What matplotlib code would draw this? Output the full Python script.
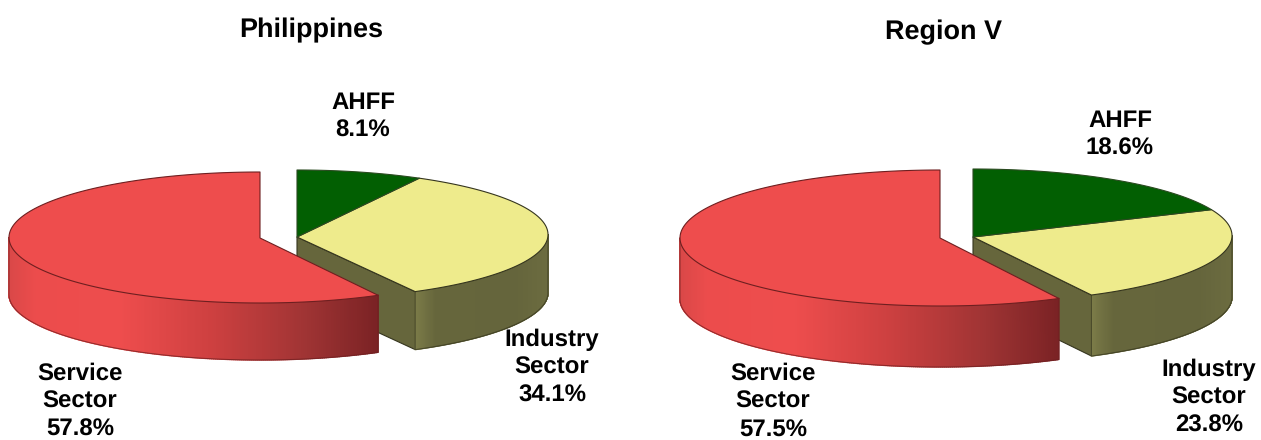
import numpy as np
import matplotlib
matplotlib.use("Agg")
import matplotlib.pyplot as plt
from matplotlib.collections import PolyCollection
from matplotlib.patches import Polygon

plt.rcParams['font.family'] = ['Liberation Sans', 'DejaVu Sans']
plt.rcParams['text.hinting'] = 'no_hinting'
plt.rcParams['text.hinting_factor'] = 1

categories = ["AHFF", "Industry\nSector", "Service\nSector"]
philippines_values = [8.1, 34.1, 57.8]
region_v_values = [18.6, 23.8, 57.5]
titles = ["Philippines", "Region V"]
GREEN, YELLOW, RED = "#025f02", "#eeeb8c", "#ee4d4d"
EDGE_OLIVE = "#35351e"
EDGE_RED = "#6e1f20"

fig = plt.figure(figsize=(12.61, 4.40), dpi=100)
ax = fig.add_axes([0, 0, 1, 1])
ax.set_xlim(0, 1261)
ax.set_ylim(440, 0)
ax.axis("off")


def lerp_stops(t, stops):
    xs = [s[0] for s in stops]
    return [np.interp(t, xs, [s[1][k] for s in stops]) / 255 for k in range(3)]


RED_STOPS = [(0, (218, 72, 72)), (0.07, (236, 76, 76)), (0.3, (238, 77, 77)),
             (0.55, (205, 64, 64)), (0.8, (160, 52, 52)), (1, (122, 34, 36))]
OLIVE_STOPS = [(0, (124, 124, 72)), (0.15, (102, 102, 60)), (0.75, (101, 101, 60)), (1, (108, 108, 64))]


def pt(cx, cy, rx, ry, a):
    return cx + rx * np.sin(a), cy - ry * np.cos(a)


def top_face(vertex, ecy, rx, ry, a0, a1, color, edge, z):
    a = np.linspace(a0, a1, 200)
    x, y = pt(vertex[0], ecy, rx, ry, a)
    ax.add_patch(Polygon(np.column_stack([np.r_[vertex[0], x], np.r_[vertex[1], y]]), closed=True,
                         facecolor=color, edgecolor=edge, lw=0.8, zorder=z, joinstyle="round"))


def side(cx, ecy, rx, ry, d, a0, a1, stops, edge, z):
    a = np.linspace(a0, a1, 260)
    x, y = pt(cx, ecy, rx, ry, a)
    verts, cols = [], []
    xmin, xmax = x.min(), x.max()
    for i in range(len(a) - 1):
        verts.append([(x[i], y[i]), (x[i + 1], y[i + 1]), (x[i + 1], y[i + 1] + d), (x[i], y[i] + d)])
        cols.append(lerp_stops(((x[i] + x[i + 1]) / 2 - xmin) / (xmax - xmin), stops))
    ax.add_collection(PolyCollection(verts, facecolors=cols, edgecolors=cols, linewidths=1.0, zorder=z))
    ax.plot(np.r_[x[0], x + 0, x[-1]], np.r_[y[0], y + d, y[-1]], color=edge, lw=0.7, alpha=0.75, zorder=z + 0.1)


def pie(values, right, left, d_r, d_l):
    frac = np.cumsum(values) / np.sum(values) * 2 * np.pi
    a1, a2 = frac[0], frac[1]
    vr, ecy, rx, ry = right
    # cut face of the Industry wedge
    tx, ty = pt(vr[0], ecy, rx, ry, a2)
    ax.add_patch(Polygon([vr, (tx, ty), (tx, ty + d_r), (vr[0], vr[1] + d_r)], closed=True,
                         facecolor="#66663c", edgecolor=EDGE_OLIVE, lw=0.8, zorder=1))
    # outer rim of the Industry wedge
    side(vr[0], ecy, rx, ry, d_r, np.pi / 2, a2, OLIVE_STOPS, EDGE_OLIVE, 2)
    top_face(vr, ecy, rx, ry, a1, a2, YELLOW, EDGE_OLIVE, 3)
    top_face(vr, ecy, rx, ry, 0, a1, GREEN, "#2a4a20", 4)
    # Service wedge
    vl, ecy, rx, ry = left
    side(vl[0], ecy, rx, ry, d_l, a2, 3 * np.pi / 2, RED_STOPS, EDGE_RED, 5)
    top_face(vl, ecy, rx, ry, a2, 2 * np.pi, RED, EDGE_RED, 6)


pie(philippines_values, ((297, 237), 234.6, 251, 64.6), ((260, 238), 237.5, 251, 65.5), 58, 57)
pie(region_v_values, ((973, 237), 235.7, 259, 66.7), ((940, 238), 238, 260, 68), 61, 61)

TITLE_FS = 19.2
FS = 17
LS = 1.33
ax.text(311.5, 30, titles[0], ha="center", va="center", fontsize=TITLE_FS, fontweight="bold", color="black")
ax.text(943.5, 32, titles[1], ha="center", va="center", fontsize=TITLE_FS, fontweight="bold", color="black")


def label(x, y, cat, v):
    ax.text(x, y, f"{cat}\n{v}%", ha="center", va="center", fontsize=FS, fontweight="bold",
            color="black", linespacing=LS, zorder=10)


label(363, 116.5, categories[0], philippines_values[0])
label(552, 367.5, categories[1], philippines_values[1])
label(80, 401.5, categories[2], philippines_values[2])
label(1120, 134.5, categories[0], region_v_values[0])
label(1209, 397.5, categories[1], region_v_values[1])
label(773, 401.5, categories[2], region_v_values[2])

fig.savefig("out.png", dpi=100, facecolor="white")
